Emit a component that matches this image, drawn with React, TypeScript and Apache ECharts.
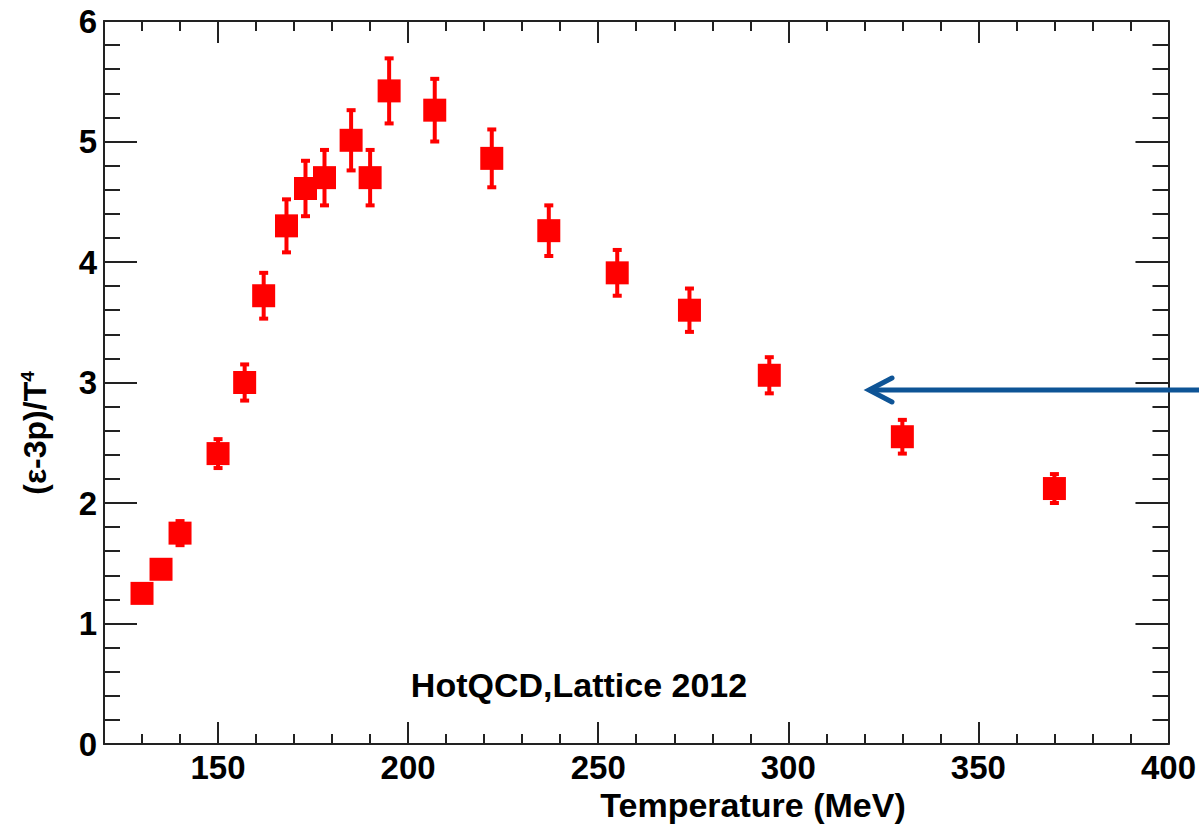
import React, { useEffect, useRef } from "react";
import * as echarts from "echarts";

const temperatures = [130, 135, 140, 150, 157, 162, 168, 173, 178, 185, 190, 195, 207, 222, 237, 255, 274, 295, 330, 370];
const traceAnomaly = [1.25, 1.45, 1.75, 2.41, 3.0, 3.72, 4.3, 4.61, 4.7, 5.01, 4.7, 5.42, 5.26, 4.86, 4.26, 3.91, 3.6, 3.06, 2.55, 2.12];
const errors = [0.06, 0.06, 0.1, 0.12, 0.15, 0.19, 0.22, 0.23, 0.23, 0.25, 0.23, 0.27, 0.26, 0.24, 0.21, 0.19, 0.18, 0.15, 0.14, 0.12];
const xMajorTicks = [150, 200, 250, 300, 350, 400];

const FONT = "'Liberation Sans', Arial, sans-serif";
const AXIS_COLOR = "#222";

export default function App() {
  const ref = useRef<HTMLDivElement>(null);

  useEffect(() => {
    if (!ref.current) return;
    const chart = echarts.init(ref.current, null, { renderer: "svg" });

    const points = temperatures.map((t, i) => [t, traceAnomaly[i]]);
    const errData = temperatures.map((t, i) => [t, traceAnomaly[i], errors[i]]);

    const baseX = {
      type: "value",
      min: 120,
      max: 400,
      gridIndex: 0,
      splitLine: { show: false },
    };

    const xAxes: any[] = [
      {
        ...baseX,
        position: "bottom",
        interval: 10,
        axisLine: { show: true, lineStyle: { color: AXIS_COLOR, width: 2 } },
        axisTick: { show: true, inside: true, length: 10, lineStyle: { color: AXIS_COLOR, width: 2 } },
        axisLabel: {
          show: true,
          margin: 7,
          color: "#000",
          fontSize: 33,
          fontWeight: "bold",
          fontFamily: FONT,
          formatter: (v: number) => (v % 50 === 0 ? String(v) : ""),
        },
      },
      {
        ...baseX,
        position: "bottom",
        axisLine: { show: false },
        axisTick: { show: true, inside: true, length: 22, customValues: xMajorTicks, lineStyle: { color: AXIS_COLOR, width: 2 } },
        axisLabel: { show: false },
      },
      {
        ...baseX,
        position: "top",
        interval: 10,
        axisLine: { show: true, lineStyle: { color: AXIS_COLOR, width: 2 } },
        axisTick: { show: true, inside: true, length: 10, lineStyle: { color: AXIS_COLOR, width: 2 } },
        axisLabel: { show: false },
      },
      {
        ...baseX,
        position: "top",
        axisLine: { show: false },
        axisTick: { show: true, inside: true, length: 22, customValues: xMajorTicks, lineStyle: { color: AXIS_COLOR, width: 2 } },
        axisLabel: { show: false },
      },
    ];

    const baseY = {
      type: "value",
      min: 0,
      max: 6,
      interval: 1,
      splitLine: { show: false },
      axisLine: { show: true, lineStyle: { color: AXIS_COLOR, width: 2 } },
      axisTick: { show: true, inside: true, length: 33, lineStyle: { color: AXIS_COLOR, width: 2 } },
      minorTick: { show: true, splitNumber: 5, length: 16, lineStyle: { color: AXIS_COLOR, width: 2 } },
      minorSplitLine: { show: false },
    };

    const yAxes: any[] = [
      {
        ...baseY,
        position: "left",
        axisLabel: {
          show: true,
          margin: 7,
          color: "#000",
          fontSize: 33,
          fontWeight: "bold",
          fontFamily: FONT,
        },
      },
      {
        ...baseY,
        position: "right",
        axisLabel: { show: false },
      },
    ];

    chart.setOption({
      animation: false,
      backgroundColor: "#fff",
      grid: { left: 104, right: 27, top: 21, bottom: 80, containLabel: false },
      xAxis: xAxes,
      yAxis: yAxes,
      series: [
        {
          type: "custom",
          xAxisIndex: 0,
          yAxisIndex: 0,
          data: errData,
          z: 2,
          renderItem: (params: any, api: any) => {
            const x = api.value(0);
            const y = api.value(1);
            const e = api.value(2);
            const top = api.coord([x, y + e]);
            const bot = api.coord([x, y - e]);
            const style = { fill: "#ff0000" };
            return {
              type: "group",
              children: [
                { type: "rect", shape: { x: top[0] - 2, y: top[1], width: 4, height: bot[1] - top[1] }, style },
                { type: "rect", shape: { x: top[0] - 4.5, y: top[1] - 2, width: 9, height: 4 }, style },
                { type: "rect", shape: { x: bot[0] - 4.5, y: bot[1] - 2, width: 9, height: 4 }, style },
              ],
            };
          },
        },
        {
          type: "scatter",
          xAxisIndex: 0,
          yAxisIndex: 0,
          data: points,
          symbol: "rect",
          symbolSize: 23,
          itemStyle: { color: "#ff0000", opacity: 1 },
          z: 3,
        },
      ],
      graphic: [
        {
          type: "text",
          x: 35,
          y: 433,
          rotation: Math.PI / 2,
          style: {
            text: "(ε-3p)/T{sup|4}",
            fill: "#000",
            font: `bold 32px ${FONT}`,
            align: "center",
            verticalAlign: "middle",
            rich: {
              sup: { fontSize: 19, fontWeight: "bold", fontFamily: FONT, verticalAlign: "top", padding: [0, 0, 16, 0], fill: "#000" },
            },
          },
        },
        {
          type: "text",
          x: 753,
          y: 805,
          style: {
            text: "Temperature (MeV)",
            fill: "#000",
            font: `bold 34px ${FONT}`,
            align: "center",
            verticalAlign: "middle",
          },
        },
        {
          type: "text",
          x: 579,
          y: 685,
          style: {
            text: "HotQCD,Lattice 2012",
            fill: "#000",
            font: `bold 34px ${FONT}`,
            align: "center",
            verticalAlign: "middle",
          },
        },
        {
          type: "polyline",
          shape: { points: [[1199, 390], [870, 390]] },
          style: { stroke: "#0e5496", lineWidth: 5, fill: "none" },
          z: 10,
        },
        {
          type: "polyline",
          shape: { points: [[892, 378], [869, 390], [892, 402]] },
          style: { stroke: "#0e5496", lineWidth: 5, fill: "none", lineCap: "round", lineJoin: "miter" },
          z: 10,
        },
      ],
    });

    return () => chart.dispose();
  }, []);

  return (
    <div
      ref={ref}
      style={{ position: "absolute", left: 0, top: 0, width: 1199, height: 824 }}
    />
  );
}
